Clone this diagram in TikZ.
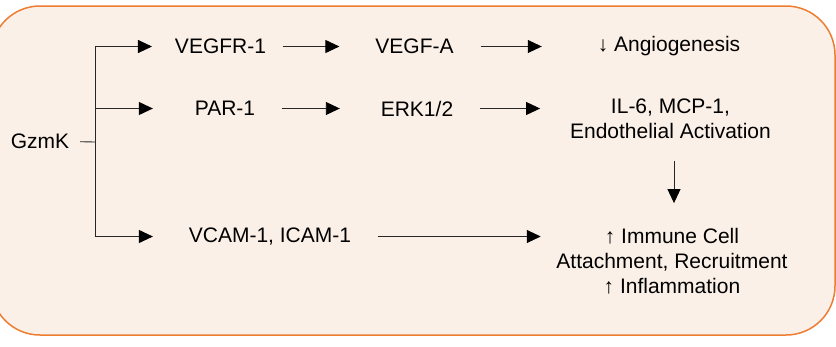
\documentclass[tikz,border=0pt]{standalone}
\usepackage{fontspec}
\setmainfont{Liberation Sans}
\usetikzlibrary{arrows.meta}
\definecolor{boxfill}{RGB}{251,240,232}
\definecolor{boxline}{RGB}{237,125,49}
\begin{document}
\begin{tikzpicture}[x=1pt,y=1pt,
  lbl/.style={inner sep=0pt, outer sep=0pt, font=\fontsize{21}{25}\selectfont, align=center},
  conn/.style={line width=0.9pt, draw=black!85},
  arr/.style={conn, -{Triangle[length=14pt,width=13pt,color=black]}}]
\useasboundingbox (0,0) rectangle (836,-346);
\draw[boxline, fill=boxfill, line width=1.5pt, rounded corners=49pt] (-9,-6) rectangle (835,-335);

% nodes
\node[lbl] (gzmk)  at (40,-141.5) {GzmK};
\coordinate (j) at (95,-142);
\node[lbl] (vegfr) at (220.5,-46.5) {VEGFR-1};
\node[lbl] (vegfa) at (414.5,-46.5) {VEGF-A};
\node[lbl] (angio) at (669,-46.5) {↓ Angiogenesis};
\node[lbl] (par)   at (225,-108.5) {PAR-1};
\node[lbl] (erk)   at (417,-108.5) {ERK1/2};
\node[lbl] (il6)   at (670.5,-119) {IL-6, MCP-1,\\Endothelial Activation};
\node[lbl] (vcam)  at (270,-236.5) {VCAM-1, ICAM-1};
\node[lbl] (imm)   at (672,-261) {↑ Immune Cell\\Attachment, Recruitment\\↑ Inflammation};

% connectors
\draw[conn, shorten <=11pt] (gzmk.east) -- (j);
\draw[arr, shorten >=23pt] (j) |- (vegfr.west);
\draw[arr, shorten >=42pt] (j) |- (par.west);
\draw[arr, shorten >=36pt] (j) |- (vcam.west);

\draw[arr, shorten <=16.7pt, shorten >=36pt] (vegfr.east) -- (vegfa.west);
\draw[arr, shorten <=27pt, shorten >=56pt] (vegfa.east) -- (angio.west);
\draw[arr, shorten <=26.7pt, shorten >=41pt] (par.east) -- (erk.west);
\draw[arr, shorten <=27pt, shorten >=30pt] (erk.east) -- (erk.east -| il6.west);
\draw[arr, shorten <=26.7pt, shorten >=15.7pt] (vcam.east) -- (vcam.east -| imm.west);
\draw[arr, shorten <=22pt, shorten >=25pt] ([xshift=3.5pt]il6.south) -- ([xshift=2pt]imm.north);
\end{tikzpicture}
\end{document}
